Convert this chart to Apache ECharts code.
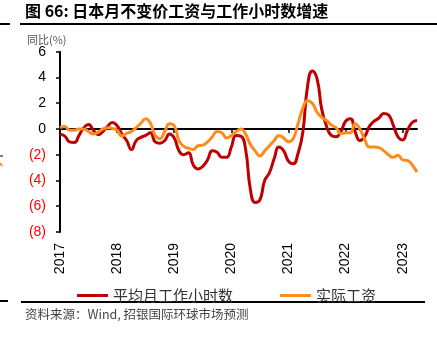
<!DOCTYPE html>
<html>
<head>
<meta charset="utf-8">
<script src="https://cdn.jsdelivr.net/npm/echarts@6/dist/echarts.min.js"></script>
<style>
  html, body { margin: 0; padding: 0; background: #fff; }
  #chart { width: 437px; height: 338px; }
</style>
</head>
<body>
<div id="chart"></div>
<script>
// Monthly observations, Jan 2017 - Apr 2023 (YoY, %)
const months = [];
for (let y = 2017; y <= 2023; y++) {
  for (let m = 1; m <= 12; m++) {
    if (y === 2023 && m > 4) break;
    months.push(y + '-' + (m < 10 ? '0' + m : m));
  }
}

// 平均月工作小时数 (average monthly hours worked)
const hoursWorked = [
  -0.4, -0.55, -1.0, -1.05, -0.5, 0.1, 0.35, -0.1, -0.45, -0.2, 0.2, 0.5,
  0.25, -0.4, -0.9, -1.6, -0.9, -0.65, -0.5, -0.3, -1.0, -1.1, -0.9, -0.4,
  -0.7, -1.7, -2.0, -1.85, -2.8, -3.1, -2.9, -2.4, -1.7, -1.8, -2.2, -2.2,
  -1.4, -0.5, -0.55, -1.6, -4.7, -5.7, -5.5, -4.0, -3.4, -2.3, -1.4, -1.7,
  -2.5, -2.7, -1.9, -0.3, 3.3, 4.5, 3.9, 1.5, 0.2, -0.5, -0.6, -0.2,
  0.6, 0.8, -0.2, -0.9, -0.6, 0.2, 0.6, 0.85, 1.2, 1.1, 0.3, -0.6,
  -0.85, -0.1, 0.5, 0.65
];

// 实际工资 (real wages)
const realWages = [
  0.1, 0.2, -0.1, -0.1, 0.0, 0.0, -0.2, -0.4, -0.25, 0.0, 0.1, 0.05,
  -0.1, -0.55, -0.35, -0.2, 0.1, 0.45, 0.8, 0.45, -0.5, -0.75, -0.2, 0.4,
  0.25, -0.9, -1.35, -1.5, -1.6, -1.3, -1.25, -1.0, -0.6, -0.2, -0.3, -0.7,
  -0.5, -0.2, 0.0, -0.4, -1.2, -1.7, -2.1, -1.7, -1.3, -0.9, -0.5, -0.7,
  -1.0, -0.75, 0.4, 1.6, 2.2, 2.0, 1.3, 0.9, 0.65, 0.3, 0.1, -0.35,
  -0.3, -0.3, 0.4, 0.0, -0.8, -1.4, -1.4, -1.45, -1.7, -2.0, -2.2, -2.05,
  -2.4, -2.45, -2.8, -3.35
];

const seriesNames = ['平均月工作小时数', '实际工资'];
const seriesColors = ['#C00000', '#FF8C1A'];

const yMin = -8, yMax = 6, yStep = 2;

const chart = echarts.init(document.getElementById('chart'), null, { renderer: 'canvas' });

const isJan = (idx) => idx % 12 === 0;

chart.setOption({
  animation: false,
  backgroundColor: '#fff',
  textStyle: { fontFamily: '"Liberation Sans", Arial, "Noto Sans CJK SC", sans-serif' },
  grid: { left: 60, right: 20, top: 51.7, bottom: 106, containLabel: false },
  legend: {
    left: 72, top: 283,
    itemWidth: 31, itemHeight: 3, itemGap: 47,
    icon: 'rect',
    textStyle: { fontSize: 15, color: '#333', fontFamily: '"Noto Sans CJK SC", sans-serif' },
    data: seriesNames
  },
  xAxis: [
    {
      type: 'category', data: months, boundaryGap: false, position: 'bottom',
      axisLine: { onZero: true, lineStyle: { color: '#000', width: 2 } },
      axisTick: { interval: isJan, length: 4, lineStyle: { color: '#000', width: 1.5 } },
      axisLabel: { show: false },
      splitLine: { show: false }
    },
    {
      type: 'category', data: months, boundaryGap: false, position: 'bottom',
      axisLine: { show: false, onZero: false },
      axisTick: { show: false },
      axisLabel: {
        interval: isJan, rotate: 90, margin: 11,
        fontSize: 14, color: '#000',
        formatter: (v) => v.slice(0, 4)
      },
      splitLine: { show: false }
    }
  ],
  yAxis: {
    type: 'value', min: yMin, max: yMax, interval: yStep,
    axisLine: { show: true, lineStyle: { color: '#000', width: 2 } },
    axisTick: { show: true, length: 4, lineStyle: { color: '#000', width: 1.5 } },
    axisLabel: {
      margin: 14, fontSize: 14,
      color: (v) => (Number(v) < 0 ? '#FF0000' : '#000'),
      formatter: (v) => (v < 0 ? '(' + (-v) + ')' : String(v))
    },
    splitLine: { show: false }
  },
  series: [
    {
      name: seriesNames[0], type: 'line', data: hoursWorked, smooth: 0.5,
      showSymbol: false, symbol: 'none',
      lineStyle: { color: seriesColors[0], width: 3 },
      itemStyle: { color: seriesColors[0] }
    },
    {
      name: seriesNames[1], type: 'line', data: realWages, smooth: 0.5,
      showSymbol: false, symbol: 'none',
      lineStyle: { color: seriesColors[1], width: 3 },
      itemStyle: { color: seriesColors[1] }
    }
  ],
  graphic: [
    {
      type: 'text', left: 25, top: 3,
      style: {
        text: '图 66: 日本月不变价工资与工作小时数增速',
        font: 'bold 16px "Noto Sans CJK SC", sans-serif', fill: '#000'
      }
    },
    { type: 'line', shape: { x1: 20, y1: 24, x2: 437, y2: 24 }, style: { stroke: '#000', lineWidth: 2 } },
    { type: 'line', shape: { x1: 0, y1: 24, x2: 10, y2: 24 }, style: { stroke: '#000', lineWidth: 2 } },
    {
      type: 'text', left: 27, top: 34,
      style: { text: '同比(%)', font: '11px "Noto Sans CJK SC", sans-serif', fill: '#555' }
    },
    { type: 'line', shape: { x1: 0, y1: 156, x2: 3, y2: 156 }, style: { stroke: '#000', lineWidth: 1 } },
    { type: 'line', shape: { x1: 0, y1: 163, x2: 2, y2: 166 }, style: { stroke: '#FF8C1A', lineWidth: 2 } },
    { type: 'line', shape: { x1: 21, y1: 302, x2: 425, y2: 302 }, style: { stroke: '#000', lineWidth: 2 } },
    { type: 'line', shape: { x1: 0, y1: 301, x2: 8, y2: 301 }, style: { stroke: '#000', lineWidth: 2 } },
    {
      type: 'text', left: 25, top: 308,
      style: {
        text: '资料来源：Wind, 招银国际环球市场预测',
        font: '12.5px "Noto Sans CJK SC", sans-serif', fill: '#444'
      }
    }
  ]
});
</script>
</body>
</html>
